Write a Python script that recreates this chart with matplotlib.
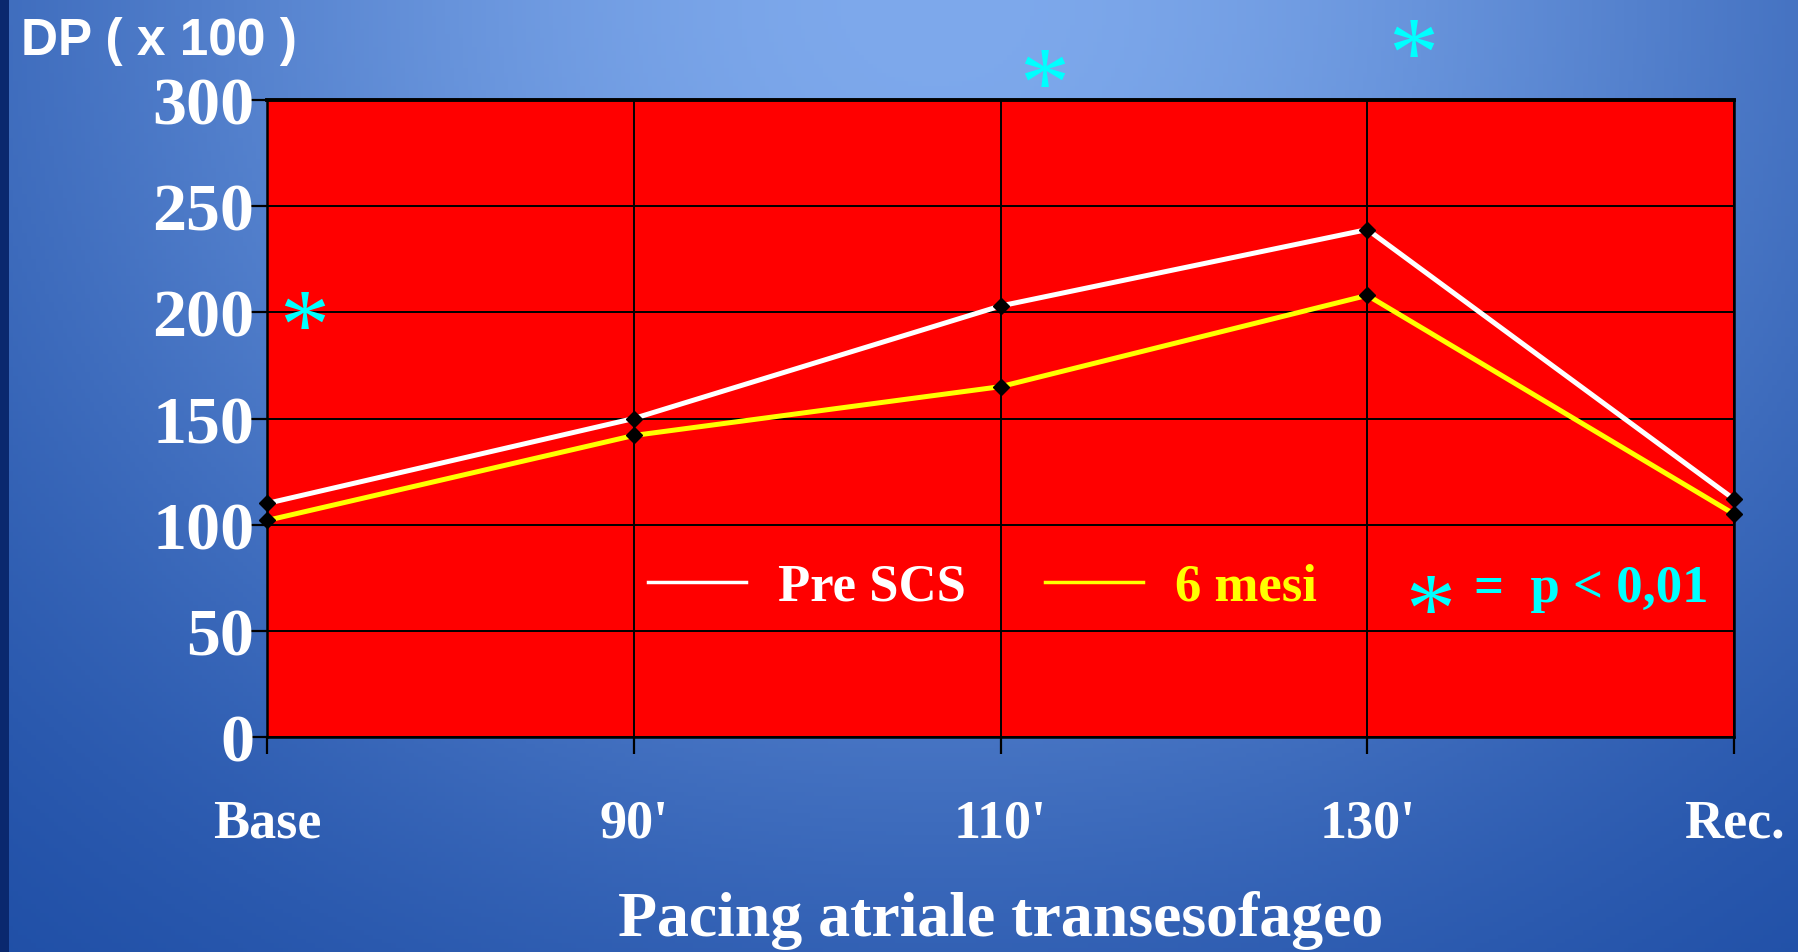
import numpy as np
import matplotlib
matplotlib.use("Agg")
import matplotlib.pyplot as plt
from matplotlib.lines import Line2D

# data
categories = ["Base", "90'", "110'", "130'", "Rec."]
pre_scs = [110, 150, 203, 239, 112]
sei_mesi = [102, 142, 165, 208, 105]
y_ticks = [0, 50, 100, 150, 200, 250, 300]
# asterisk marks (x in category units, y in data units)
star_x = [0.10, 2.12, 3.125]
star_y = [203, 317, 331]

serif = "Liberation Serif"
cyan = "#00ffff"

fig = plt.figure(figsize=(17.99, 9.53), dpi=100)

# blue gradient background
bg = fig.add_axes([0, 0, 1, 1], zorder=-10)
gx, gy = np.meshgrid(np.linspace(0, 1, 400), np.linspace(0, 1, 220))
f = np.exp(-(((gx - 0.52) / 0.55) ** 2 + (gy / 0.9) ** 2))
dark = np.array([20, 68, 158]) / 255
light = np.array([126, 169, 236]) / 255
img = dark + (light - dark) * f[..., None]
img[:, :2] = np.array([10, 40, 110]) / 255
bg.imshow(img, extent=[0, 1, 0, 1], aspect="auto", origin="upper")
bg.axis("off")

ax = fig.add_axes([0.1484, 0.2256, 0.8155, 0.6684])
ax.set_facecolor("#ff0000")
x = np.arange(len(categories))

ax.plot(x, pre_scs, color="white", lw=3.6, marker="D", ms=8,
        mfc="black", mec="black", zorder=3, clip_on=False)
ax.plot(x, sei_mesi, color="#ffff00", lw=3.6, marker="D", ms=8,
        mfc="black", mec="black", zorder=3, clip_on=False)

ax.set_xlim(0, len(categories) - 1)
ax.set_ylim(0, 300)
ax.set_xticks(x)
ax.set_xticklabels(categories)
ax.set_yticks(y_ticks)
ax.grid(True, color="black", lw=1.4)
ax.set_axisbelow(True)
for s in ax.spines.values():
    s.set_color("black")
    s.set_linewidth(1.8)
ax.spines["top"].set_linewidth(2.8)

ax.tick_params(axis="y", length=12, width=1.6, pad=-3, colors="black",
               labelcolor="white", labelsize=49)
ax.tick_params(axis="x", length=12, width=1.6, pad=32, colors="black",
               labelcolor="white", labelsize=39)
for lab in ax.get_xticklabels() + ax.get_yticklabels():
    lab.set_fontfamily(serif)
    lab.set_fontweight("bold")

ax.set_xlabel("Pacing atriale transesofageo", fontsize=46, family=serif,
              fontweight="bold", color="white", labelpad=30)

fig.text(21 / 1799, 1 - 41 / 953, "DP ( x 100 )", fontsize=37,
         family="Liberation Sans", fontweight="bold", color="white",
         ha="left", va="center")

# significance asterisks
star_kw = dict(textcoords="offset points", ha="center", va="baseline",
               fontsize=72, family=serif, color=cyan, annotation_clip=False)
for sx, sy in zip(star_x, star_y):
    ax.annotate("*", (sx, sy), xytext=(0, -36), **star_kw)

# legend row
handles = [Line2D([], [], color="white", lw=2.5),
           Line2D([], [], color="#ffff00", lw=2.5)]
leg = ax.legend(handles, ["Pre SCS", "6 mesi"], ncol=2, loc="center left",
                bbox_to_anchor=(0.2597, 0.2355), frameon=False,
                borderpad=0, borderaxespad=0, handlelength=1.86,
                handletextpad=0.6, columnspacing=1.5,
                prop={"family": serif, "weight": "bold", "size": 38})
for t, c in zip(leg.get_texts(), ["white", "#ffff00"]):
    t.set_color(c)

ax.annotate("*", (3.171, 69), xytext=(0, -36), **star_kw)
ax.text(3.291, 70, "=  p < 0,01", ha="left", va="center", fontsize=38,
        family=serif, fontweight="bold", color=cyan)

fig.savefig("out.png", dpi=100)
